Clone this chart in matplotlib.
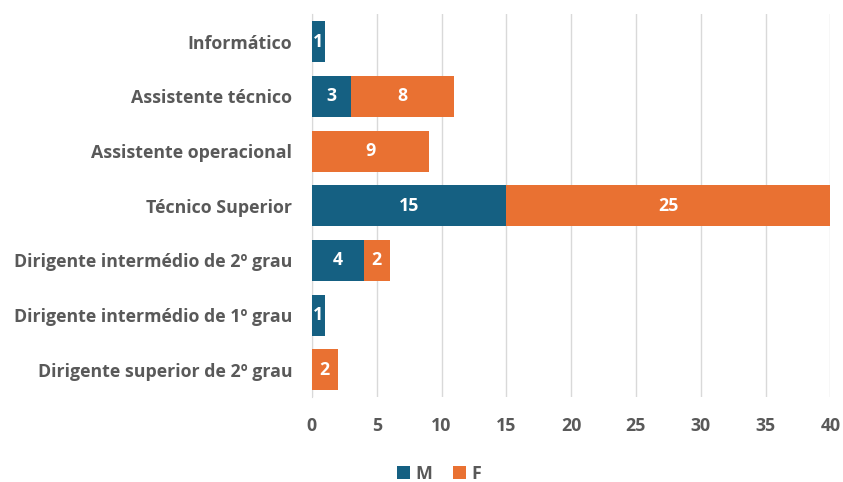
import numpy as np
import matplotlib.pyplot as plt

categorias = ["Informático", "Assistente técnico", "Assistente operacional",
              "Técnico Superior", "Dirigente intermédio de 2º grau",
              "Dirigente intermédio de 1º grau", "Dirigente superior de 2º grau"]
masc = [1, 3, 0, 15, 4, 1, 0]
fem = [0, 8, 9, 25, 2, 0, 2]
xticks = [0, 5, 10, 15, 20, 25, 30, 35, 40]

cor_m = "#156082"
cor_f = "#E97132"
cinza = "#595959"

plt.rcParams['font.family'] = ['Open Sans', 'DejaVu Sans']
plt.rcParams['font.weight'] = 'bold'
fs = 12.8

fig = plt.figure(figsize=(8.43, 4.82), dpi=100)
ax = fig.add_axes([0.370, 0.176, 0.615, 0.794])

y = np.arange(len(categorias))
bm = ax.barh(y, masc, height=0.75, color=cor_m, label="M", zorder=3)
bf = ax.barh(y, fem, left=masc, height=0.75, color=cor_f, label="F", zorder=3)

for barras, vals in ((bm, masc), (bf, fem)):
    for b, v in zip(barras, vals):
        if v > 0:
            ax.text(b.get_x() + b.get_width() / 2, b.get_y() + b.get_height() / 2,
                    str(v), ha="center", va="center", color="white",
                    fontsize=fs, fontweight="bold", zorder=4)

ax.set_yticks(y)
ax.set_yticklabels(categorias, fontsize=fs, color=cinza, fontweight="bold")
ax.set_ylim(len(categorias) - 0.5, -0.5)
ax.set_xlim(0, 40)
ax.set_xticks(xticks)
ax.set_xticklabels([str(t) for t in xticks], fontsize=fs, color=cinza, fontweight="bold")
ax.tick_params(axis="both", length=0)
ax.tick_params(axis="y", pad=14)
ax.tick_params(axis="x", pad=14)

ax.grid(axis="x", color="#D9D9D9", linewidth=1, zorder=0)
for s in ["top", "right", "bottom"]:
    ax.spines[s].set_visible(False)
ax.spines["left"].set_color("#D9D9D9")

leg = ax.legend(loc="lower center", bbox_to_anchor=(0.245, -0.265), ncol=2, frameon=False,
                handlelength=0.7, handleheight=0.7, handletextpad=0.3, columnspacing=1.2,
                prop={"size": fs, "weight": "bold"})
for t in leg.get_texts():
    t.set_color(cinza)

fig.savefig("out.png", dpi=100)
